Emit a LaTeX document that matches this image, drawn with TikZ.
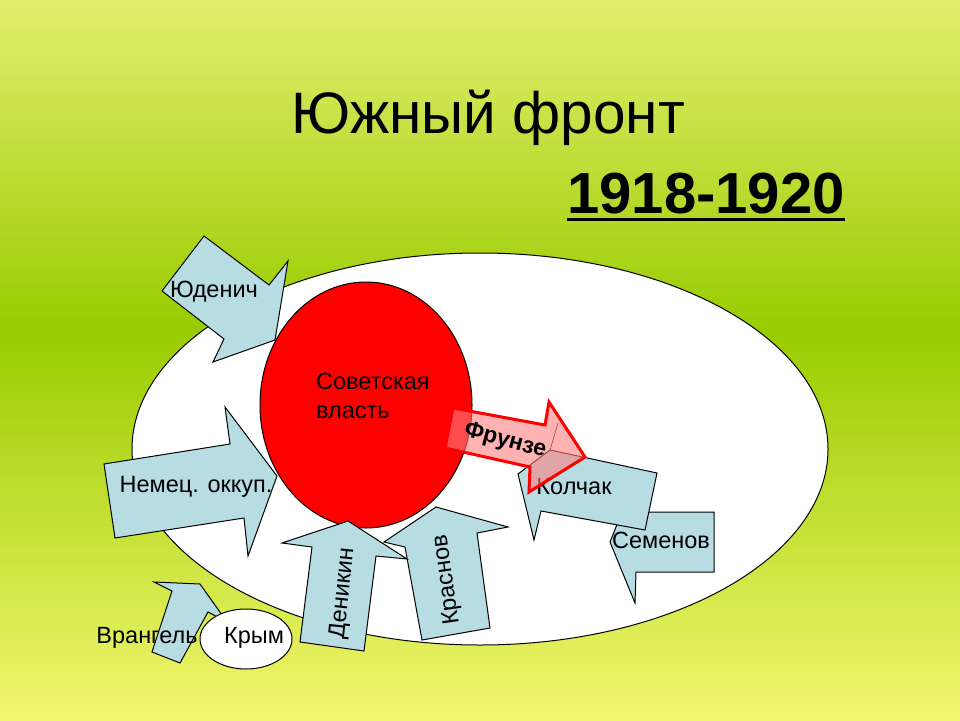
\documentclass[tikz,border=0pt]{standalone}
\usepackage{fontspec}
\setmainfont{Liberation Sans}
\definecolor{topgreen}{RGB}{228,238,110}
\definecolor{midgreen}{RGB}{153,204,0}
\definecolor{lowyellow}{RGB}{242,246,110}
\definecolor{arrowblue}{RGB}{183,221,227}

\begin{document}
\begin{tikzpicture}[x=1pt,y=-1pt,
  blockarrow/.style={draw=black,fill=arrowblue,line width=1pt,line join=miter},
  lbl/.style={inner sep=0pt,font=\fontsize{23.5}{28}\selectfont}]
\useasboundingbox (0,0) rectangle (960,720);
\shade[top color=topgreen,bottom color=midgreen] (0,0) rectangle (960,330);
\shade[top color=midgreen,bottom color=lowyellow] (0,330) rectangle (960,720);

\node[inner sep=0pt,anchor=base,font=\fontsize{58.5}{70}\selectfont] (title) at (488,133) {Южный фронт};
\node[inner sep=0pt,anchor=base,font=\fontsize{58}{70}\selectfont\bfseries] (years) at (706,213) {1918-1920};
\draw[line width=3pt] ([yshift=-6pt]years.base west) -- ([yshift=-6pt]years.base east);

\draw[fill=white,line width=1pt] (480,449) ellipse [x radius=348, y radius=196];
\draw[fill=red,line width=1pt] (366,405) ellipse [x radius=106, y radius=123];
\node[lbl,align=left,anchor=west,font=\fontsize{23.5}{29}\selectfont] (soviet) at (316,396) {Советская\\власть};

\draw[blockarrow] (204,236) -- (269,285) -- (288,261) -- (275,340) -- (213,362) -- (224,339) -- (162,291) -- cycle;
\node[lbl] (yudenich) at (214,292) {Юденич};

\draw[blockarrow] (104,464) -- (230,444) -- (225,407) -- (277,476) -- (248,556) -- (244,518) -- (115,538) -- cycle;
\node[lbl] (nemets) at (196,487) {Немец. оккуп.};

\draw[blockarrow] (436,507) -- (508,527) -- (477,533) -- (490,628) -- (422,640) -- (405,547) -- (384,542) -- cycle;
\node[lbl,rotate=98] (krasnov) at (447,580) {Краснов};

\draw[blockarrow] (348,521) -- (407,559) -- (376,556) -- (364,651) -- (300,642) -- (312,547) -- (282,543) -- cycle;
\node[lbl,rotate=84] (denikin) at (343,593) {Деникин};

\draw[blockarrow] (622,512) -- (714,512) -- (714,572) -- (636,572) -- (635,603) -- (610,542) -- cycle;
\node[lbl] (semenov) at (661,540) {Семенов};

\draw[blockarrow] (550,450) -- (657,473) -- (645,530) -- (541,511) -- (534,540) -- (518,474) -- cycle;
\draw[line width=0.6pt] (550,450) -- (558,423);
\node[lbl] (kolchak) at (574,487) {Колчак};

\draw[fill=red!50,fill opacity=0.6,draw=red,line width=3pt,line join=miter]
  (453,408) -- (545,425) -- (549,402) -- (585,457) -- (529,492) -- (530,467) -- (445,448) -- cycle;
\node[lbl,font=\fontsize{23}{28}\selectfont\bfseries,rotate=-15] (frunze) at (505,441) {Фрунзе};

\draw[blockarrow] (200,584) -- (227,622) -- (208,612) -- (180,663) -- (152,652) -- (172,591) -- (154,582) -- cycle;
\node[lbl] (wrangel) at (147,638) {Врангель};
\draw[fill=white,line width=1pt] (246,639) ellipse [x radius=46, y radius=30];
\node[lbl] (krym) at (254,638) {Крым};
\end{tikzpicture}
\end{document}
